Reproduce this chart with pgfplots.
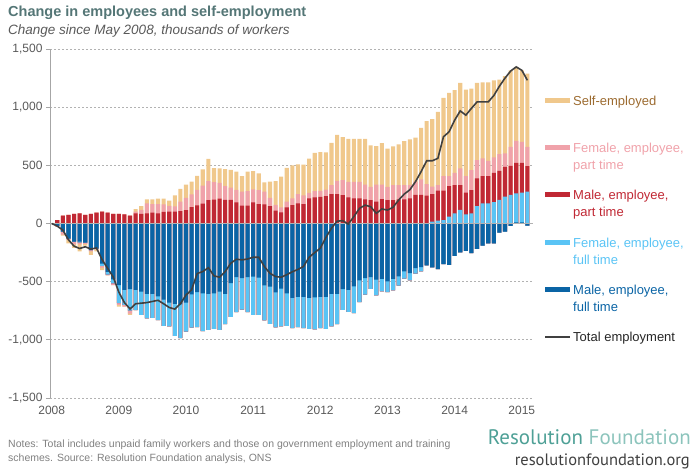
\documentclass[border=0pt]{standalone}
\usepackage{pgfplots}
\pgfplotsset{compat=1.18}
\usepackage{pgfplotstable}
\usepackage{fontspec}
\setmainfont{Liberation Sans}
\newfontfamily\logofont{PT Sans}
\definecolor{cse}{RGB}{240,200,140}
\definecolor{cfpt}{RGB}{240,162,170}
\definecolor{cmpt}{RGB}{192,40,52}
\definecolor{cfft}{RGB}{90,196,245}
\definecolor{cmft}{RGB}{10,100,165}
\definecolor{cline}{RGB}{64,64,64}
\definecolor{csetext}{RGB}{156,107,48}
\definecolor{titlecol}{RGB}{84,118,118}
\definecolor{labgray}{RGB}{89,89,89}
\definecolor{notegray}{RGB}{128,128,128}
\definecolor{rfdark}{RGB}{78,160,150}
\definecolor{rflight}{RGB}{140,196,188}

\pgfplotstableread{
i mft fft mpt fpt se tot
0 0 0 0 0 0 0
1 -20 0 30 -8 0 -23
2 -70 0 67 -25 -10 -57
3 -130 0 73 -10 -30 -140
4 -155 0 82 -25 -30 -195
5 -155 -10 87 -15 -60 -215
6 -165 0 73 -10 -15 -200
7 -230 0 82 -10 -30 -220
8 -215 0 93 -10 -15 -210
9 -345 -20 102 -15 -20 -310
10 -415 -25 93 -5 0 -385
11 -480 -35 82 -15 0 -460
12 -530 -155 82 -15 -15 -590
13 -570 -130 79 -15 0 -680
14 -565 -185 67 -25 -10 -735
15 -570 -175 87 15 22 -690
16 -585 -200 82 34 34 -685
17 -605 -210 86 87 34 -680
18 -606 -205 93 74 40 -670
19 -626 -205 87 80 46 -660
20 -654 -225 99 65 49 -690
21 -680 -205 102 50 45 -722
22 -690 -275 102 45 95 -736
23 -695 -290 107 80 110 -690
24 -680 -250 115 105 115 -615
25 -610 -285 140 110 110 -570
26 -590 -300 155 135 120 -430
27 -600 -325 170 155 140 -413
28 -605 -310 200 165 190 -380
29 -600 -305 205 150 120 -450
30 -585 -330 213 137 123 -462
31 -605 -260 202 120 146 -413
32 -513 -290 202 106 152 -342
33 -462 -300 182 106 157 -307
34 -470 -270 153 120 134 -313
35 -462 -300 153 126 166 -305
36 -456 -330 182 112 157 -290
37 -465 -320 167 120 143 -290
38 -533 -300 164 109 80 -370
39 -542 -320 150 70 140 -428
40 -593 -300 110 50 205 -456
41 -560 -325 96 43 263 -462
42 -600 -280 139 48 292 -440
43 -640 -260 158 57 285 -415
44 -630 -260 172 80 257 -395
45 -630 -270 167 74 265 -369
46 -640 -265 215 49 293 -290
47 -635 -275 224 54 330 -250
48 -630 -270 229 52 333 -212
49 -630 -275 235 57 319 -120
50 -605 -280 252 77 365 -40
51 -605 -260 252 114 396 20
52 -565 -177 244 128 370 24
53 -570 -190 224 134 370 -5
54 -540 -230 215 143 370 60
55 -490 -186 215 143 370 130
56 -469 -142 207 128 393 158
57 -460 -103 201 114 356 144
58 -483 -134 187 148 330 87
59 -477 -106 210 125 356 125
60 -497 -94 201 114 328 115
61 -477 -97 201 128 333 140
62 -455 -79 207 122 351 202
63 -412 -62 207 122 379 253
64 -426 -63 216 114 392 290
65 -383 -49 245 114 380 359
66 -375 -37 245 134 443 445
67 -360 0 239 100 541 539
68 -378 16 237 63 581 539
69 -392 24 258 48 629 560
70 -349 30 252 126 672 745
71 -355 59 263 86 715 788
72 -278 87 243 106 710 888
73 -249 116 214 143 735 968
74 -235 79 186 143 743 931
75 -255 87 200 172 701 990
76 -218 150 238 157 663 1045
77 -190 173 235 151 655 1045
78 -170 173 235 131 675 1045
79 -170 184 252 132 663 1100
80 -78 202 251 143 641 1180
81 -70 230 257 115 664 1250
82 -21 245 251 163 658 1310
83 10 249 263 189 635 1346
84 10 255 257 180 615 1317
85 -18 273 220 166 630 1231
}\data

\newcommand{\Pa}{max(\thisrow{mft},0)}
\newcommand{\Pb}{\Pa+max(\thisrow{fft},0)}
\newcommand{\Pc}{\Pb+max(\thisrow{mpt},0)}
\newcommand{\Pd}{\Pc+max(\thisrow{fpt},0)}
\newcommand{\Pe}{\Pd+max(\thisrow{se},0)}
\newcommand{\Na}{min(\thisrow{mft},0)}
\newcommand{\Nb}{\Na+min(\thisrow{fft},0)}
\newcommand{\Nc}{\Nb+min(\thisrow{mpt},0)}
\newcommand{\Nd}{\Nc+min(\thisrow{fpt},0)}
\newcommand{\Ne}{\Nd+min(\thisrow{se},0)}

\begin{document}
\begin{tikzpicture}
\begin{axis}[
  width=483bp, height=349bp, scale only axis,
  xmin=-0.3, xmax=86, ymin=-1500, ymax=1500,
  axis lines*=left,
  x axis line style={draw=none},
  y axis line style={draw=black!35, line width=0.8bp},
  xtick={0,12,...,84},
  xticklabels={2008,2009,2010,2011,2012,2013,2014,2015},
  xtick style={draw=none},
  ytick={-1500,-1000,...,1500},
  ytick style={draw=black!35, line width=0.8bp},
  tick align=outside, major tick length=4bp,
  ymajorgrids, grid style={dash pattern=on 2bp off 2bp, black!30, line width=0.7bp},
  tick label style={font=\fontsize{12bp}{14bp}\selectfont, text=labgray},
  xticklabel style={yshift=-1bp},
  /pgf/number format/1000 sep={,},
  /pgf/number format/assume math mode=true,
  mybar/.style={ybar, bar width=4.1bp, bar shift=0pt, draw=none, fill=#1},
]
\coordinate (O) at (rel axis cs:0,0);
\addplot[mybar=cse] table[x=i, y expr={\Pe}] {\data};
\addplot[mybar=cfpt] table[x=i, y expr={\Pd}] {\data};
\addplot[mybar=cmpt] table[x=i, y expr={\Pc}] {\data};
\addplot[mybar=cfft] table[x=i, y expr={\Pb}] {\data};
\addplot[mybar=cmft] table[x=i, y expr={\Pa}] {\data};
\addplot[mybar=cse] table[x=i, y expr={\Ne}] {\data};
\addplot[mybar=cfpt] table[x=i, y expr={\Nd}] {\data};
\addplot[mybar=cmpt] table[x=i, y expr={\Nc}] {\data};
\addplot[mybar=cfft] table[x=i, y expr={\Nb}] {\data};
\addplot[mybar=cmft] table[x=i, y expr={\Na}] {\data};
\draw[black!30, line width=0.9bp] (axis cs:-0.3,0) -- (axis cs:86,0);
\addplot[sharp plot, no marks, color=cline, line width=1.6bp] table[x=i, y=tot] {\data};
\end{axis}

\begin{scope}[shift={(O)}, x=1bp, y=1bp]
\pgfresetboundingbox
\useasboundingbox (-50,-74) rectangle (649,398);
% titles
\node[anchor=base west, inner sep=0, text=titlecol, font=\bfseries\fontsize{14.5bp}{17bp}\selectfont] at (-42,381) {Change in employees and self-employment};
\node[anchor=base west, inner sep=0, text=labgray, font=\itshape\fontsize{13.5bp}{16bp}\selectfont] at (-42,363) {Change since May 2008, thousands of workers};

% legend
\begin{scope}[every node/.style={anchor=base west, inner sep=0, font=\fontsize{13bp}{16bp}\selectfont}]
\draw[line width=5bp, cse] (495,297) -- (520,297);
\node[text=csetext] at (523,292.5) {Self-employed};
\draw[line width=5bp, cfpt] (495,250) -- (520,250);
\node[text=cfpt] at (523,245.5) {Female, employee,};
\node[text=cfpt] at (523,228.5) {part time};
\draw[line width=5bp, cmpt] (495,203) -- (520,203);
\node[text=cmpt] at (523,198.5) {Male, employee,};
\node[text=cmpt] at (523,181.5) {part time};
\draw[line width=5bp, cfft] (495,155) -- (520,155);
\node[text=cfft] at (523,150.5) {Female, employee,};
\node[text=cfft] at (523,133.5) {full time};
\draw[line width=5bp, cmft] (495,108) -- (520,108);
\node[text=cmft] at (523,103.5) {Male, employee,};
\node[text=cmft] at (523,86.5) {full time};
\draw[line width=1.6bp, cline] (495,61) -- (520,61);
\node[text=black!85] at (523,56.5) {Total employment};
\end{scope}

% notes
\node[anchor=base west, inner sep=0, text=notegray, font=\fontsize{10.5bp}{14bp}\selectfont] at (-42,-50) {Notes: Total includes unpaid family workers and those on government employment and training};
\node[anchor=base west, inner sep=0, text=notegray, font=\fontsize{10.5bp}{14bp}\selectfont] at (-42,-64) {schemes. Source: Resolution Foundation analysis, ONS};

% logo
\node[anchor=base east, inner sep=0, font=\logofont\fontsize{21bp}{24bp}\selectfont] at (641,-47) {\textcolor{rfdark}{Resolution} \textcolor{rflight}{Foundation}};
\node[anchor=base east, inner sep=0, text=black!75, font=\logofont\fontsize{16.5bp}{19bp}\selectfont] at (640,-68) {resolutionfoundation.org};
\end{scope}
\end{tikzpicture}
\end{document}
